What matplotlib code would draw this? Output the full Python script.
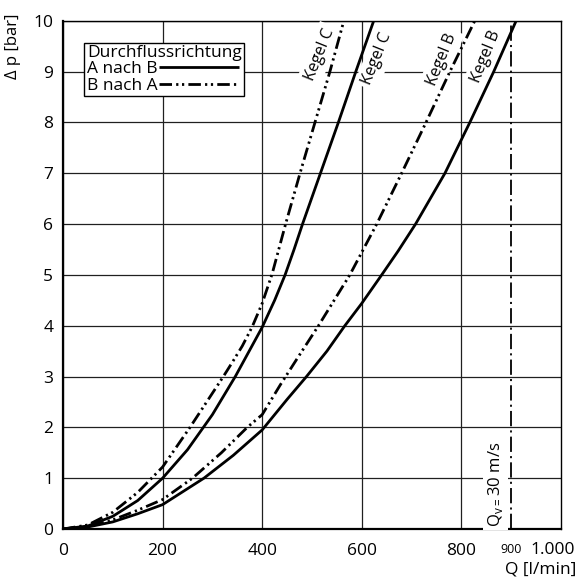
import matplotlib
matplotlib.use("Agg")
import matplotlib.pyplot as plt
from matplotlib.lines import Line2D

plt.rcParams['font.family'] = ['Open Sans', 'DejaVu Sans']
plt.rcParams['mathtext.fontset'] = 'custom'
plt.rcParams['mathtext.rm'] = 'Open Sans'
plt.rcParams['lines.scale_dashes'] = False

# Kegel C, A nach B
q_c_ab = [0, 50, 100, 150, 200, 250, 300, 346, 400, 425, 446, 464, 481, 517, 553, 588, 624]
dp_c_ab = [0, 0.06, 0.25, 0.56, 1.0, 1.56, 2.25, 3.0, 3.97, 4.5, 5.0, 5.5, 6.0, 7.0, 8.0, 9.0, 10.0]
# Kegel C, B nach A
q_c_ba = [0, 50, 100, 150, 200, 255, 322, 340, 360, 380, 400, 420, 447, 476, 506, 536, 564]
dp_c_ba = [0, 0.08, 0.33, 0.72, 1.22, 2.0, 3.0, 3.28, 3.6, 3.98, 4.44, 5.02, 6.0, 7.0, 8.0, 9.0, 10.0]
# Kegel B, B nach A
q_b_ba = [0, 50, 100, 150, 200, 260, 318, 370, 400, 436, 470, 513, 576, 630, 680, 729, 777, 827]
dp_b_ba = [0, 0.05, 0.18, 0.37, 0.58, 1.0, 1.5, 2.0, 2.25, 2.83, 3.35, 4.0, 5.0, 6.0, 7.0, 8.0, 9.0, 10.0]
# Kegel B, A nach B
q_b_ab = [0, 50, 100, 150, 200, 283, 342, 400, 450, 489, 530, 566, 600, 640, 673, 708, 767, 817, 865, 910]
dp_b_ab = [0, 0.04, 0.14, 0.3, 0.48, 1.0, 1.45, 1.95, 2.55, 3.0, 3.5, 4.0, 4.44, 5.0, 5.47, 6.0, 7.0, 8.0, 9.0, 10.0]

q_limit = 900  # Q_v = 30 m/s
x_ticks = [0, 200, 400, 600, 800]
y_ticks = list(range(0, 11))

solid = dict(color='black', lw=2.0, solid_capstyle='butt')
dashdotdot = dict(color='black', lw=2.0, dashes=(9, 3, 1.6, 2.6, 1.6, 3))

fig = plt.figure(figsize=(5.79, 5.85), dpi=100)
ax = fig.add_axes([0.1088, 0.0957, 0.8601, 0.8689])

ax.plot(q_c_ab, dp_c_ab, **solid, zorder=4)
ax.plot(q_c_ba, dp_c_ba, **dashdotdot, zorder=4)
ax.plot(q_b_ab, dp_b_ab, **solid, zorder=4)
ax.plot(q_b_ba, dp_b_ba, **dashdotdot, zorder=4)

ax.axvline(q_limit, color='black', lw=1.3, dashes=(11, 3, 1.5, 3), zorder=4)

ax.set_xlim(0, 1000)
ax.set_ylim(0, 10)
ax.set_xticks(x_ticks)
ax.set_yticks(y_ticks)
ax.tick_params(length=0, labelsize=12.5, pad=7)
ax.tick_params(axis='x', pad=10)
ax.grid(True, color='#202020', lw=0.9, zorder=1)
ax.set_axisbelow(True)
for side in ['left', 'bottom']:
    ax.spines[side].set_linewidth(1.6)
for side in ['top', 'right']:
    ax.spines[side].set_linewidth(1.0)

xt = ax.get_xaxis_transform()
ax.text(q_limit, -0.0407, '900', transform=xt, ha='center', va='center', fontsize=9)
ax.text(984, -0.0407, '1.000', transform=xt, ha='center', va='center', fontsize=12.5)
ax.text(1.03, -0.08, 'Q [l/min]', transform=ax.transAxes, ha='right', va='center', fontsize=12.5)
fig.text(0.0225, 0.921, 'Δ p [bar]', rotation=90, ha='center', va='center', fontsize=12)

box = dict(facecolor='white', edgecolor='none', pad=3)
for q, dp, txt in [(515, 9.33, 'Kegel C'), (631, 9.26, 'Kegel C'),
                   (760, 9.24, 'Kegel B'), (849, 9.29, 'Kegel B')]:
    ax.text(q, dp, txt, rotation=68, ha='center', va='center', fontsize=11.5,
            bbox=box, zorder=3)

ax.text(q_limit - 31, 0.88, r'Q$_\mathregular{v}$$_\mathregular{=}$30 m/s', rotation=90,
        ha='center', va='center', fontsize=12,
        bbox=dict(facecolor='white', edgecolor='none', pad=2), zorder=3)

handles = [Line2D([], [], **solid), Line2D([], [], **dashdotdot)]
leg = ax.legend(handles, ['A nach B', 'B nach A'], title='Durchflussrichtung',
                loc='upper left', bbox_to_anchor=(0.0428, 0.9567), borderaxespad=0,
                markerfirst=False, alignment='left', fontsize=12.5, title_fontsize=12.5,
                handlelength=4.6, handletextpad=0.1, borderpad=0.15, labelspacing=0.0,
                fancybox=False, framealpha=1, edgecolor='black')
leg.get_frame().set_linewidth(1.0)
leg.set_zorder(5)

fig.savefig('out.png', dpi=100)
